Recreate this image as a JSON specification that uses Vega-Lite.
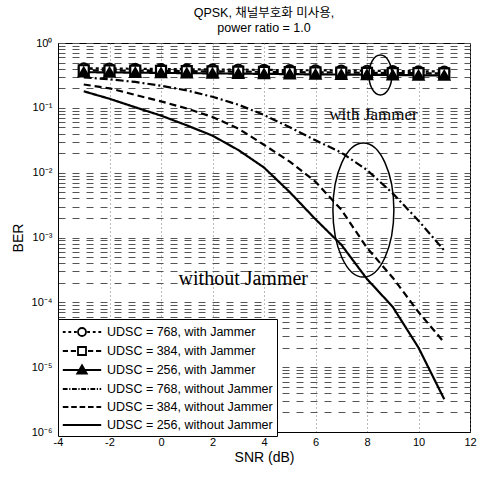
{
  "$schema": "https://vega.github.io/schema/vega-lite/v6.json",
  "width": 412,
  "height": 389,
  "autosize": {"type": "none"},
  "padding": {"left": 58, "top": 43, "right": 11, "bottom": 46},
  "background": "white",
  "title": {
    "text": ["QPSK, 채널부호화 미사용,", "power ratio = 1.0"],
    "fontSize": 12.5,
    "fontWeight": "normal",
    "font": "Liberation Sans, Noto Sans CJK KR",
    "color": "black",
    "anchor": "middle",
    "offset": 3,
    "lineHeight": 15
  },
  "config": {
    "view": {"stroke": "black", "strokeWidth": 1},
    "legend": {"labelFont": "Liberation Sans", "labelColor": "black"}
  },
  "data": {
    "values": [
      {"snr": -3, "ber": 0.407, "series": "UDSC = 768, with Jammer"},
      {"snr": -2, "ber": 0.404, "series": "UDSC = 768, with Jammer"},
      {"snr": -1, "ber": 0.400, "series": "UDSC = 768, with Jammer"},
      {"snr": 0, "ber": 0.397, "series": "UDSC = 768, with Jammer"},
      {"snr": 1, "ber": 0.394, "series": "UDSC = 768, with Jammer"},
      {"snr": 2, "ber": 0.391, "series": "UDSC = 768, with Jammer"},
      {"snr": 3, "ber": 0.388, "series": "UDSC = 768, with Jammer"},
      {"snr": 4, "ber": 0.385, "series": "UDSC = 768, with Jammer"},
      {"snr": 5, "ber": 0.382, "series": "UDSC = 768, with Jammer"},
      {"snr": 6, "ber": 0.379, "series": "UDSC = 768, with Jammer"},
      {"snr": 7, "ber": 0.376, "series": "UDSC = 768, with Jammer"},
      {"snr": 8, "ber": 0.373, "series": "UDSC = 768, with Jammer"},
      {"snr": 9, "ber": 0.370, "series": "UDSC = 768, with Jammer"},
      {"snr": 10, "ber": 0.366, "series": "UDSC = 768, with Jammer"},
      {"snr": 11, "ber": 0.363, "series": "UDSC = 768, with Jammer"},
      {"snr": -3, "ber": 0.380, "series": "UDSC = 384, with Jammer"},
      {"snr": -2, "ber": 0.377, "series": "UDSC = 384, with Jammer"},
      {"snr": -1, "ber": 0.374, "series": "UDSC = 384, with Jammer"},
      {"snr": 0, "ber": 0.371, "series": "UDSC = 384, with Jammer"},
      {"snr": 1, "ber": 0.368, "series": "UDSC = 384, with Jammer"},
      {"snr": 2, "ber": 0.365, "series": "UDSC = 384, with Jammer"},
      {"snr": 3, "ber": 0.362, "series": "UDSC = 384, with Jammer"},
      {"snr": 4, "ber": 0.359, "series": "UDSC = 384, with Jammer"},
      {"snr": 5, "ber": 0.356, "series": "UDSC = 384, with Jammer"},
      {"snr": 6, "ber": 0.353, "series": "UDSC = 384, with Jammer"},
      {"snr": 7, "ber": 0.350, "series": "UDSC = 384, with Jammer"},
      {"snr": 8, "ber": 0.347, "series": "UDSC = 384, with Jammer"},
      {"snr": 9, "ber": 0.344, "series": "UDSC = 384, with Jammer"},
      {"snr": 10, "ber": 0.342, "series": "UDSC = 384, with Jammer"},
      {"snr": 11, "ber": 0.339, "series": "UDSC = 384, with Jammer"},
      {"snr": -3, "ber": 0.355, "series": "UDSC = 256, with Jammer"},
      {"snr": -2, "ber": 0.352, "series": "UDSC = 256, with Jammer"},
      {"snr": -1, "ber": 0.349, "series": "UDSC = 256, with Jammer"},
      {"snr": 0, "ber": 0.346, "series": "UDSC = 256, with Jammer"},
      {"snr": 1, "ber": 0.343, "series": "UDSC = 256, with Jammer"},
      {"snr": 2, "ber": 0.340, "series": "UDSC = 256, with Jammer"},
      {"snr": 3, "ber": 0.337, "series": "UDSC = 256, with Jammer"},
      {"snr": 4, "ber": 0.334, "series": "UDSC = 256, with Jammer"},
      {"snr": 5, "ber": 0.331, "series": "UDSC = 256, with Jammer"},
      {"snr": 6, "ber": 0.328, "series": "UDSC = 256, with Jammer"},
      {"snr": 7, "ber": 0.326, "series": "UDSC = 256, with Jammer"},
      {"snr": 8, "ber": 0.324, "series": "UDSC = 256, with Jammer"},
      {"snr": 9, "ber": 0.321, "series": "UDSC = 256, with Jammer"},
      {"snr": 10, "ber": 0.318, "series": "UDSC = 256, with Jammer"},
      {"snr": 11, "ber": 0.316, "series": "UDSC = 256, with Jammer"},
      {"snr": -3, "ber": 0.295, "series": "UDSC = 768, without Jammer"},
      {"snr": -2, "ber": 0.275, "series": "UDSC = 768, without Jammer"},
      {"snr": -1, "ber": 0.251, "series": "UDSC = 768, without Jammer"},
      {"snr": 0, "ber": 0.219, "series": "UDSC = 768, without Jammer"},
      {"snr": 1, "ber": 0.186, "series": "UDSC = 768, without Jammer"},
      {"snr": 2, "ber": 0.148, "series": "UDSC = 768, without Jammer"},
      {"snr": 3, "ber": 0.112, "series": "UDSC = 768, without Jammer"},
      {"snr": 4, "ber": 0.0776, "series": "UDSC = 768, without Jammer"},
      {"snr": 5, "ber": 0.0501, "series": "UDSC = 768, without Jammer"},
      {"snr": 6, "ber": 0.0316, "series": "UDSC = 768, without Jammer"},
      {"snr": 7, "ber": 0.0204, "series": "UDSC = 768, without Jammer"},
      {"snr": 8, "ber": 0.0110, "series": "UDSC = 768, without Jammer"},
      {"snr": 9, "ber": 0.00479, "series": "UDSC = 768, without Jammer"},
      {"snr": 10, "ber": 0.00182, "series": "UDSC = 768, without Jammer"},
      {"snr": 11, "ber": 0.00063, "series": "UDSC = 768, without Jammer"},
      {"snr": -3, "ber": 0.229, "series": "UDSC = 384, without Jammer"},
      {"snr": -2, "ber": 0.200, "series": "UDSC = 384, without Jammer"},
      {"snr": -1, "ber": 0.158, "series": "UDSC = 384, without Jammer"},
      {"snr": 0, "ber": 0.126, "series": "UDSC = 384, without Jammer"},
      {"snr": 1, "ber": 0.0977, "series": "UDSC = 384, without Jammer"},
      {"snr": 2, "ber": 0.0724, "series": "UDSC = 384, without Jammer"},
      {"snr": 3, "ber": 0.0479, "series": "UDSC = 384, without Jammer"},
      {"snr": 4, "ber": 0.0269, "series": "UDSC = 384, without Jammer"},
      {"snr": 5, "ber": 0.0148, "series": "UDSC = 384, without Jammer"},
      {"snr": 6, "ber": 0.00724, "series": "UDSC = 384, without Jammer"},
      {"snr": 7, "ber": 0.00269, "series": "UDSC = 384, without Jammer"},
      {"snr": 8, "ber": 0.000692, "series": "UDSC = 384, without Jammer"},
      {"snr": 9, "ber": 0.000240, "series": "UDSC = 384, without Jammer"},
      {"snr": 10, "ber": 0.0000708, "series": "UDSC = 384, without Jammer"},
      {"snr": 11, "ber": 0.0000240, "series": "UDSC = 384, without Jammer"},
      {"snr": -3, "ber": 0.180, "series": "UDSC = 256, without Jammer"},
      {"snr": -2, "ber": 0.138, "series": "UDSC = 256, without Jammer"},
      {"snr": -1, "ber": 0.102, "series": "UDSC = 256, without Jammer"},
      {"snr": 0, "ber": 0.0759, "series": "UDSC = 256, without Jammer"},
      {"snr": 1, "ber": 0.0537, "series": "UDSC = 256, without Jammer"},
      {"snr": 2, "ber": 0.0372, "series": "UDSC = 256, without Jammer"},
      {"snr": 3, "ber": 0.0224, "series": "UDSC = 256, without Jammer"},
      {"snr": 4, "ber": 0.0120, "series": "UDSC = 256, without Jammer"},
      {"snr": 5, "ber": 0.00501, "series": "UDSC = 256, without Jammer"},
      {"snr": 6, "ber": 0.00191, "series": "UDSC = 256, without Jammer"},
      {"snr": 7, "ber": 0.000776, "series": "UDSC = 256, without Jammer"},
      {"snr": 8, "ber": 0.000229, "series": "UDSC = 256, without Jammer"},
      {"snr": 9, "ber": 0.0000851, "series": "UDSC = 256, without Jammer"},
      {"snr": 10, "ber": 0.0000200, "series": "UDSC = 256, without Jammer"},
      {"snr": 11, "ber": 0.0000032, "series": "UDSC = 256, without Jammer"}
    ]
  },
  "encoding": {
    "x": {
      "field": "snr",
      "type": "quantitative",
      "scale": {"domain": [-4, 12], "nice": false, "zero": false},
      "axis": {
        "values": [-4, -2, 0, 2, 4, 6, 8, 10, 12],
        "title": "SNR (dB)",
        "titleFont": "Liberation Sans",
        "titleFontSize": 14,
        "titleFontWeight": "normal",
        "titleColor": "black",
        "titleX": 206,
        "titleY": 29,
        "titleBaseline": "alphabetic",
        "titleAlign": "center",
        "labelFont": "Liberation Sans",
        "labelFontSize": 11,
        "labelColor": "black",
        "labelPadding": 4,
        "labelFlush": false,
        "labelOverlap": false,
        "labelExpr": "'' + datum.value",
        "ticks": false,
        "domain": true,
        "domainColor": "black",
        "grid": true,
        "gridColor": "#777777",
        "gridDash": [1, 3],
        "gridWidth": 1
      }
    },
    "y": {
      "field": "ber",
      "type": "quantitative",
      "scale": {"type": "log", "domain": [0.000001, 1], "nice": false},
      "axis": {
        "values": [1e-6, 2e-6, 3e-6, 4e-6, 5e-6, 6e-6, 7e-6, 8e-6, 9e-6, 1e-5, 2e-5, 3e-5, 4e-5, 5e-5, 6e-5, 7e-5, 8e-5, 9e-5, 1e-4, 2e-4, 3e-4, 4e-4, 5e-4, 6e-4, 7e-4, 8e-4, 9e-4, 0.001, 0.002, 0.003, 0.004, 0.005, 0.006, 0.007, 0.008, 0.009, 0.01, 0.02, 0.03, 0.04, 0.05, 0.06, 0.07, 0.08, 0.09, 0.1, 0.2, 0.3, 0.4, 0.5, 0.6, 0.7, 0.8, 0.9, 1],
        "title": "BER",
        "titleFont": "Liberation Sans",
        "titleFontSize": 14,
        "titleFontWeight": "normal",
        "titleColor": "black",
        "titleX": -40,
        "titleY": 194.5,
        "titleAngle": -90,
        "titleAlign": "center",
        "titleBaseline": "middle",
        "labelFont": "Liberation Sans",
        "labelFontSize": 11,
        "labelColor": "black",
        "labelPadding": 6,
        "labelFlush": false,
        "labelOverlap": false,
        "labelExpr": "abs(log(datum.value)/LN10 - round(log(datum.value)/LN10)) < 0.01 ? '10' + ['⁰','⁻¹','⁻²','⁻³','⁻⁴','⁻⁵','⁻⁶'][-round(log(datum.value)/LN10)] : ''",
        "ticks": false,
        "domain": true,
        "domainColor": "black",
        "grid": true,
        "gridColor": "#555555",
        "gridDash": [7, 7],
        "gridWidth": 1
      }
    }
  },
  "layer": [
    {
      "mark": {"type": "line", "color": "black"},
      "encoding": {
        "detail": {"field": "series", "type": "nominal"},
        "strokeDash": {
          "field": "series",
          "type": "nominal",
          "scale": {
            "domain": ["UDSC = 768, with Jammer", "UDSC = 384, with Jammer", "UDSC = 256, with Jammer", "UDSC = 768, without Jammer", "UDSC = 384, without Jammer", "UDSC = 256, without Jammer"],
            "range": [[3, 3], [6, 3], [1, 0], [8, 3, 2, 3], [7, 4], [1, 0]]
          },
          "legend": null
        },
        "strokeWidth": {
          "field": "series",
          "type": "nominal",
          "scale": {
            "domain": ["UDSC = 768, with Jammer", "UDSC = 384, with Jammer", "UDSC = 256, with Jammer", "UDSC = 768, without Jammer", "UDSC = 384, without Jammer", "UDSC = 256, without Jammer"],
            "range": [2.2, 2.2, 2.4, 2.2, 2.8, 3]
          },
          "legend": null
        }
      }
    },
    {
      "transform": [{"filter": "indexof(datum.series, 'with Jammer') >= 0"}],
      "mark": {"type": "point", "filled": true, "stroke": "black", "strokeWidth": 2.2, "size": 100, "opacity": 1},
      "encoding": {
        "shape": {
          "field": "series",
          "type": "nominal",
          "scale": {
            "domain": ["UDSC = 768, with Jammer", "UDSC = 384, with Jammer", "UDSC = 256, with Jammer"],
            "range": ["circle", "square", "triangle-up"]
          },
          "legend": null
        },
        "fill": {
          "field": "series",
          "type": "nominal",
          "scale": {
            "domain": ["UDSC = 768, with Jammer", "UDSC = 384, with Jammer", "UDSC = 256, with Jammer"],
            "range": ["white", "white", "black"]
          },
          "legend": null
        }
      }
    },
    {
      "transform": [{"filter": "datum.snr > 100"}],
      "mark": {"type": "point", "filled": false, "color": "black", "strokeWidth": 1.8, "opacity": 1},
      "encoding": {
        "shape": {
          "field": "series",
          "type": "nominal",
          "scale": {
            "domain": ["UDSC = 768, with Jammer", "UDSC = 384, with Jammer", "UDSC = 256, with Jammer", "UDSC = 768, without Jammer", "UDSC = 384, without Jammer", "UDSC = 256, without Jammer"],
            "range": [
              "M-2.4,0L-2.05,0M-1.7,0L-1.35,0M-1,0L-0.65,0M0.65,0L1,0M1.35,0L1.7,0M2.05,0L2.4,0M-0.5,0A0.5,0.5 0 1 1 0.5,0A0.5,0.5 0 1 1 -0.5,0Z",
              "M-2.4,0L-1.75,0M-1.4,0L-0.75,0M0.75,0L1.4,0M1.75,0L2.4,0M-0.5,-0.5L0.5,-0.5L0.5,0.5L-0.5,0.5Z",
              "M-2.4,0L2.4,0M0,-0.6L0.6,0.45L-0.6,0.45ZM-0.45,0.3L0.45,0.3M-0.35,0.12L0.35,0.12M-0.25,-0.06L0.25,-0.06M-0.15,-0.24L0.15,-0.24M-0.06,-0.42L0.06,-0.42",
              "M-2.4,0L-1.8,0M-1.6,0L-1.45,0M-1.25,0L-0.65,0M-0.45,0L-0.3,0M-0.1,0L0.5,0M0.7,0L0.85,0M1.05,0L1.65,0M1.85,0L2,0M2.2,0L2.4,0",
              "M-2.4,0L-1.7,0M-1.35,0L-0.65,0M-0.3,0L0.4,0M0.75,0L1.45,0M1.8,0L2.4,0",
              "M-2.4,0L2.4,0"
            ]
          },
          "legend": {
            "title": null,
            "orient": "none",
            "legendX": 0,
            "legendY": 276,
            "symbolSize": 256,
            "symbolStrokeColor": "black",
            "symbolStrokeWidth": 1.8,
            "symbolFillColor": "transparent",
            "labelFontSize": 12.5,
            "labelFont": "Liberation Sans",
            "labelColor": "black",
            "labelLimit": 300,
            "strokeColor": "black",
            "fillColor": "white",
            "padding": 4,
            "rowPadding": 2,
            "symbolOffset": 11,
            "labelOffset": 16
          }
        }
      }
    },
    {
      "data": {"values": [{"snr": 8.52, "ber": 0.32}]},
      "mark": {"type": "point", "shape": "M-0.575,0A0.575,1 0 1 1 0.575,0A0.575,1 0 1 1 -0.575,0Z", "size": 1600, "filled": false, "stroke": "black", "strokeWidth": 1.5, "opacity": 1}
    },
    {
      "data": {"values": [{"snr": 7.86, "ber": 0.00265}]},
      "mark": {"type": "point", "shape": "M-0.455,0A0.455,1 0 1 1 0.455,0A0.455,1 0 1 1 -0.455,0Z", "size": 17956, "filled": false, "stroke": "black", "strokeWidth": 1.5, "opacity": 1}
    },
    {
      "data": {"values": [{"snr": 8.25, "ber": 0.0648, "label": "with  Jammer"}]},
      "mark": {"type": "text", "font": "Liberation Serif", "fontSize": 17, "align": "center", "baseline": "alphabetic", "color": "black"},
      "encoding": {"text": {"field": "label", "type": "nominal"}}
    },
    {
      "data": {"values": [{"snr": 5.71, "ber": 0.000184, "label": "without  Jammer"}]},
      "mark": {"type": "text", "font": "Liberation Serif", "fontSize": 20, "align": "right", "baseline": "alphabetic", "color": "black"},
      "encoding": {"text": {"field": "label", "type": "nominal"}}
    }
  ],
  "resolve": {"scale": {"shape": "independent"}}
}
